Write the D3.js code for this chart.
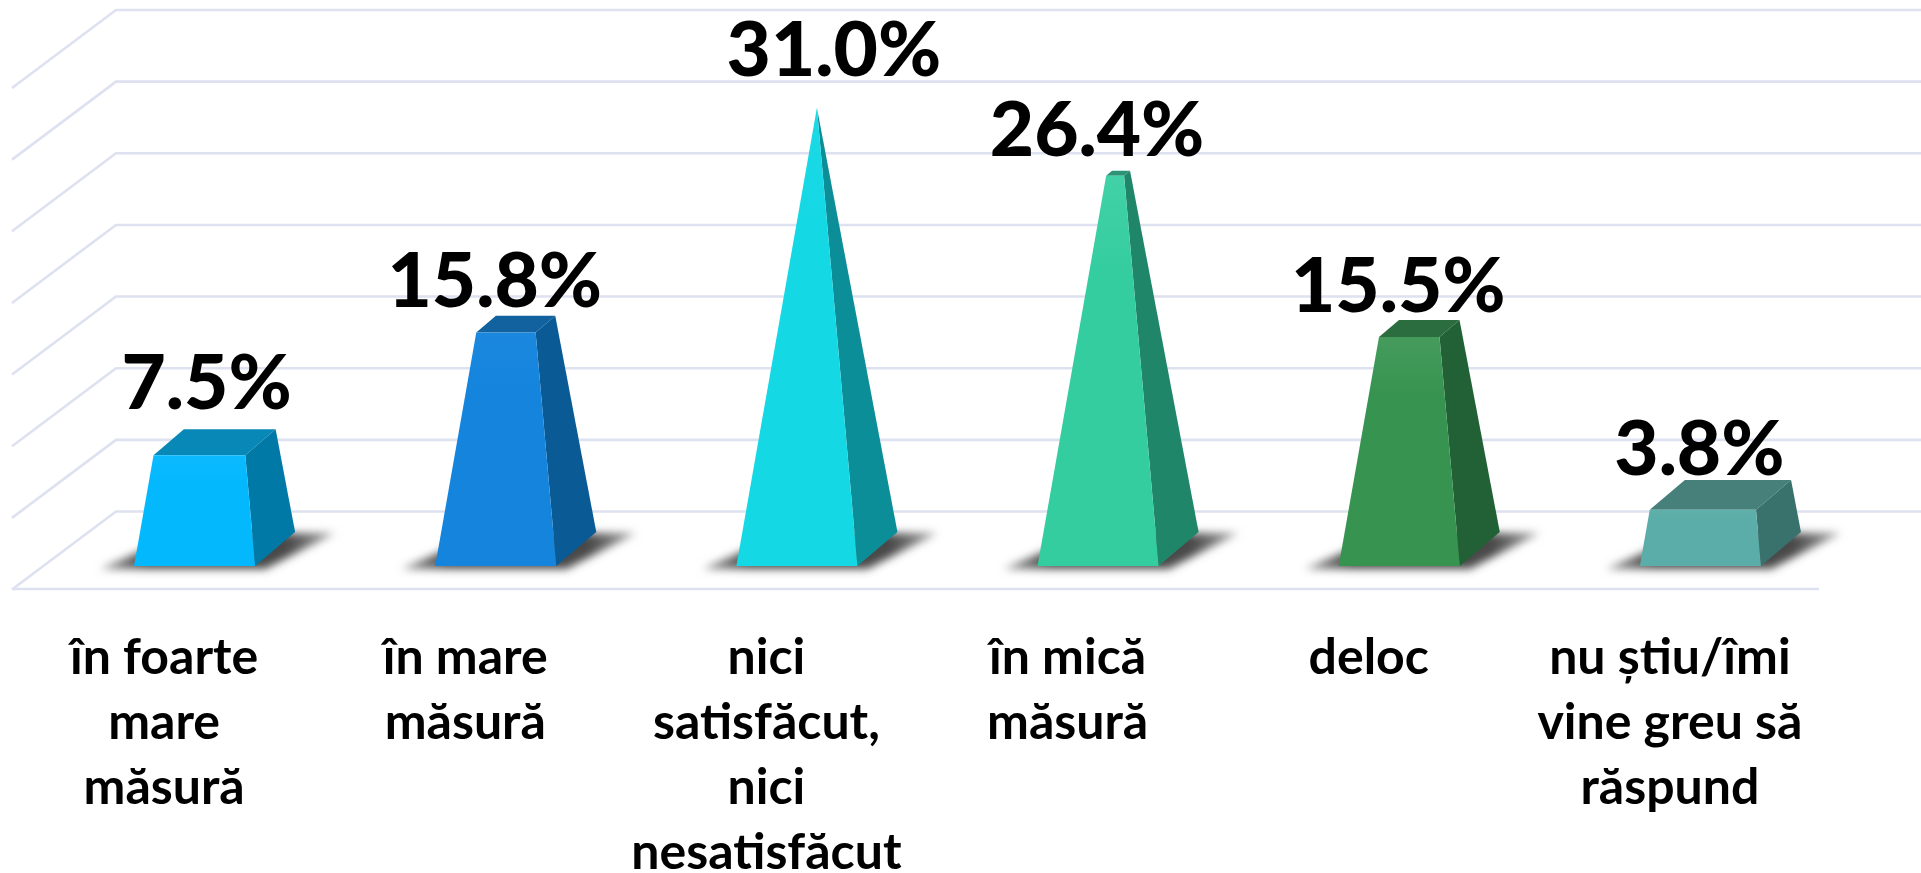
<!DOCTYPE html>
<html><head><meta charset="utf-8">
<style>html,body{margin:0;padding:0;background:#fff;overflow:hidden}svg{display:block}</style>
<script src="https://cdn.jsdelivr.net/npm/d3@7"></script></head>
<body><svg id="c" width="1921" height="873"></svg>
<script>
const categories = [
  ["în foarte","mare","măsură"],
  ["în mare","măsură"],
  ["nici","satisfăcut,","nici","nesatisfăcut"],
  ["în mică","măsură"],
  ["deloc"],
  ["nu știu/îmi","vine greu să","răspund"]
];
const values = [7.5,15.8,31.0,26.4,15.5,3.8];
const valueLabels = ["7.5%","15.8%","31.0%","26.4%","15.5%","3.8%"];
const yTicks = [0,5,10,15,20,25,30,35];
const frontColors = ["#04B8FE","#1484DD","#14D8E4","#34CDA0","#379450","#5AADA8"];
const sideColors  = ["#0179A7","#0A5A95","#0C8E98","#20866A","#226135","#39716D"];
const topColors   = ["#0788B6","#12629F","#12A0AA","#2B9476","#2C6D40","#477F7B"];
const labelDx = [-8,-21,17,-21,-21,-21];
const labelGap = [20,9,32,15,8,5];

const svg = d3.select("#c");
const floor = {left:12, right:1819, front:589, dx:104, dy:78};
const y = d3.scaleLinear().domain([0,35]).range([511.5,10]);
const x = d3.scaleBand().domain(d3.range(values.length)).range([floor.left,floor.right]);
const vMax = d3.max(values);
const barW = x.bandwidth()*0.402, depthX = 40, depthY = 34, baseFront = 566;
const defs = svg.append("defs");
defs.append("filter").attr("id","blur").attr("x","-30%").attr("y","-60%").attr("width","160%").attr("height","220%")
  .append("feGaussianBlur").attr("stdDeviation",4.5);
const sg = defs.append("linearGradient").attr("id","shadow").attr("x1",0).attr("y1",0).attr("x2",1).attr("y2",0);
[[0,"#9a9a9a"],[0.2,"#4a4a4a"],[0.8,"#4a4a4a"],[1,"#a8a8a8"]].forEach(s=>sg.append("stop").attr("offset",s[0]).attr("stop-color",s[1]));
frontColors.forEach((c,i)=>{
  const g = defs.append("linearGradient").attr("id","f"+i).attr("x1",0).attr("y1",0).attr("x2",0).attr("y2",1);
  g.append("stop").attr("offset",0).attr("stop-color",d3.interpolateRgb(c,"#fff")(i==3||i==4?0.07:0.03));
  g.append("stop").attr("offset",0.25).attr("stop-color",c);
  g.append("stop").attr("offset",1).attr("stop-color",c);
});

// grid
const grid = svg.append("g").attr("fill","none").attr("stroke","#DEE1EF").attr("stroke-width",2.6);
const line = d3.line();
grid.selectAll("path").data(yTicks).join("path").attr("d",t=>{
  const yb = y(t);
  const pts = [[floor.left,yb+floor.dy],[floor.left+floor.dx,yb],[floor.right+floor.dx,yb]];
  return line(pts);
});
grid.append("line").attr("x1",floor.left).attr("x2",floor.right).attr("y1",floor.front).attr("y2",floor.front);

const quad = p => line(p)+"Z";
const bars = svg.append("g").selectAll("g").data(values).join("g");
bars.each(function(v,i){
  const g = d3.select(this);
  const fl = x(i)+x.bandwidth()/2+floor.dx/2-depthX/2-barW/2, fr = fl+barW;
  const bl = fl+depthX, br = fr+depthX, bb = baseFront-depthY;
  const ax = (fl+br)/2, ay = (baseFront+bb)/2-(y(0)-y(vMax))+3;
  const t = v/vMax;
  const lerp = (p)=>[p[0]+(ax-p[0])*t, p[1]+(ay-p[1])*t];
  const FL=[fl,baseFront],FR=[fr,baseFront],BR=[br,bb],BL=[bl,bb];
  const tFL=lerp(FL),tFR=lerp(FR),tBR=lerp(BR),tBL=lerp(BL);
  // shadow
  g.append("path").attr("d",quad([[fl-34,baseFront+3],[fr+10,baseFront+3],[br+40,bb+1],[bl+8,bb+1]]))
    .attr("fill","url(#shadow)").attr("filter","url(#blur)");
  g.append("path").attr("d",quad([tFL,tFR,tBR,tBL])).attr("fill",topColors[i]);
  g.append("path").attr("d",quad([FR,BR,tBR,tFR])).attr("fill",sideColors[i]);
  g.append("path").attr("d",quad([FL,FR,tFR,tFL])).attr("fill",`url(#f${i})`);
  // value label
  g.append("text").attr("x",ax+labelDx[i]).attr("y",tBL[1]-labelGap[i])
    .attr("text-anchor","middle").attr("font-family","Lato").attr("font-weight",900)
    .attr("font-size",76.5).attr("fill","#000").text(valueLabels[i]);
});

// category labels
const catG = svg.append("g").attr("font-family","Lato").attr("font-weight",700).attr("font-size",50).attr("fill","#000").attr("text-anchor","middle");
categories.forEach((lines,i)=>{
  lines.forEach((s,j)=>{
    catG.append("text").attr("x",x(i)+x.bandwidth()/2+1.5).attr("y",674+j*65).text(s);
  });
});
</script></body></html>
